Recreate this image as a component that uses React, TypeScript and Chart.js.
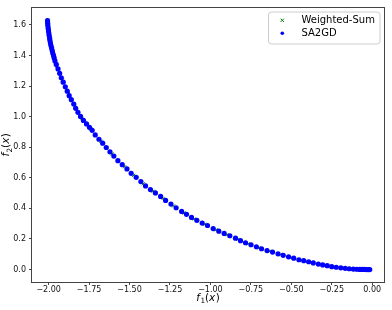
import { useEffect, useRef } from "react";
import { Chart, registerables } from "chart.js";

Chart.register(...registerables);

// SA2GD points (f1, f2)
const sa2gdF1 = [
  -2.007, -2.006, -2.005, -2.003, -2.001, -1.999, -1.997, -1.994, -1.992, -1.989,
  -1.986, -1.982, -1.978, -1.975, -1.970, -1.966, -1.961, -1.953, -1.942, -1.932,
  -1.922, -1.910, -1.897, -1.885, -1.873, -1.860, -1.845, -1.833, -1.819, -1.803,
  -1.785, -1.766, -1.748, -1.731, -1.712, -1.689, -1.666, -1.644, -1.621, -1.597,
  -1.572, -1.545, -1.516, -1.490, -1.459, -1.430, -1.401, -1.371, -1.340, -1.308,
  -1.277, -1.244, -1.212, -1.178, -1.148, -1.117, -1.084, -1.051, -1.018, -0.983,
  -0.948, -0.915, -0.880, -0.845, -0.814, -0.783, -0.749, -0.716, -0.684, -0.650,
  -0.616, -0.582, -0.550, -0.517, -0.485, -0.453, -0.423, -0.393, -0.364, -0.333,
  -0.306, -0.278, -0.250, -0.222, -0.194, -0.167, -0.142, -0.117, -0.096, -0.077,
  -0.062, -0.048, -0.036, -0.025, -0.015,
];
const sa2gdF2 = [
  1.627, 1.611, 1.595, 1.578, 1.562, 1.546, 1.530, 1.513, 1.497, 1.481,
  1.465, 1.449, 1.432, 1.416, 1.400, 1.384, 1.364, 1.341, 1.312, 1.283,
  1.254, 1.225, 1.195, 1.166, 1.137, 1.111, 1.082, 1.054, 1.028, 1.001,
  0.975, 0.952, 0.930, 0.910, 0.880, 0.852, 0.826, 0.798, 0.770, 0.742,
  0.712, 0.686, 0.658, 0.629, 0.603, 0.575, 0.547, 0.523, 0.501, 0.478,
  0.452, 0.428, 0.404, 0.380, 0.361, 0.341, 0.322, 0.304, 0.288, 0.268,
  0.251, 0.236, 0.221, 0.205, 0.189, 0.175, 0.162, 0.149, 0.136, 0.124,
  0.114, 0.103, 0.093, 0.083, 0.074, 0.064, 0.058, 0.051, 0.043, 0.036,
  0.030, 0.025, 0.019, 0.015, 0.011, 0.008, 0.005, 0.003, 0.002, 0.001,
  0.001, 0.0005, 0.0, 0.0, 0.0,
];

// Weighted-Sum points (f1, f2)
const wsF1 = [
  -2.004, -1.996, -1.980, -1.948, -1.915, -1.878, -1.838, -1.794, -1.740, -1.677,
  -1.608, -1.530, -1.474, -1.415, -1.355, -1.292, -1.228, -1.163, -1.100, -1.034,
  -0.965, -0.897, -0.830, -0.766, -0.700, -0.633, -0.566, -0.501, -0.438, -0.378,
  -0.320, -0.264, -0.208, -0.155, -0.107, -0.068, -0.030,
];
const wsF2 = [
  1.630, 1.520, 1.440, 1.330, 1.240, 1.150, 1.065, 0.988, 0.920, 0.839,
  0.756, 0.672, 0.616, 0.561, 0.512, 0.465, 0.416, 0.370, 0.331, 0.296,
  0.260, 0.228, 0.197, 0.168, 0.142, 0.119, 0.098, 0.078, 0.061, 0.047,
  0.033, 0.022, 0.013, 0.006, 0.003, 0.001, 0.0,
];

const xTicks = [-2, -1.75, -1.5, -1.25, -1, -0.75, -0.5, -0.25, 0];
const yTicks = [0, 0.2, 0.4, 0.6, 0.8, 1.0, 1.2, 1.4, 1.6];
const legendLabels = ["Weighted-Sum", "SA2GD"];

const FONT = "'DejaVu Sans', sans-serif";

type Part = { t: string; it?: boolean; sub?: boolean };

function drawMath(ctx: CanvasRenderingContext2D, parts: Part[], cx: number, baseY: number, size: number) {
  const fontFor = (p: Part) => `${p.it ? "italic " : ""}${p.sub ? size * 0.7 : size}px ${FONT}`;
  let total = 0;
  const widths = parts.map((p) => {
    ctx.font = fontFor(p);
    const w = ctx.measureText(p.t).width + (p.it ? size * 0.04 : 0);
    total += w;
    return w;
  });
  let x = cx - total / 2;
  ctx.textAlign = "left";
  ctx.textBaseline = "alphabetic";
  parts.forEach((p, i) => {
    ctx.font = fontFor(p);
    ctx.fillText(p.t, x, baseY + (p.sub ? size * 0.22 : 0));
    x += widths[i];
  });
}

const decorPlugin = {
  id: "decor",
  afterDatasetsDraw(chart: any) {
    const ctx: CanvasRenderingContext2D = chart.ctx;
    const a = chart.chartArea;
    ctx.save();
    // frame
    ctx.strokeStyle = "#444";
    ctx.lineWidth = 1;
    ctx.strokeRect(Math.round(a.left) - 0.5, Math.round(a.top) - 0.5, Math.round(a.right) - Math.round(a.left) + 1, Math.round(a.bottom) - Math.round(a.top) + 1);

    // legend
    const lx = 268.5, ly = 12, lw = 111.5, lh = 32;
    ctx.beginPath();
    ctx.roundRect(lx, ly, lw, lh, 3);
    ctx.fillStyle = "rgba(255,255,255,0.8)";
    ctx.fill();
    ctx.strokeStyle = "#cccccc";
    ctx.stroke();

    // green x marker
    ctx.strokeStyle = "#008000";
    ctx.lineWidth = 1;
    const mx = 282.3, my1 = 20.3, my2 = 33.3, s = 1.6;
    ctx.beginPath();
    ctx.moveTo(mx - s, my1 - s);
    ctx.lineTo(mx + s, my1 + s);
    ctx.moveTo(mx - s, my1 + s);
    ctx.lineTo(mx + s, my1 - s);
    ctx.stroke();
    // blue dot
    ctx.fillStyle = "#0000ff";
    ctx.beginPath();
    ctx.arc(mx, my2, 1.8, 0, Math.PI * 2);
    ctx.fill();

    ctx.fillStyle = "#000";
    ctx.font = `10px ${FONT}`;
    ctx.textAlign = "left";
    ctx.textBaseline = "middle";
    ctx.fillText(legendLabels[0], 301.5, my1 + 0.3);
    ctx.fillText(legendLabels[1], 301.5, my2 + 0.3);

    // axis titles
    ctx.fillStyle = "#000";
    const cx = (a.left + a.right) / 2;
    drawMath(ctx, [{ t: "f", it: true }, { t: "1", sub: true }, { t: "(" }, { t: "x", it: true }, { t: ")" }], cx, 301, 10.4);
    const cy = (a.top + a.bottom) / 2;
    ctx.translate(6, cy);
    ctx.rotate(-Math.PI / 2);
    drawMath(ctx, [{ t: "f", it: true }, { t: "2", sub: true }, { t: "(" }, { t: "x", it: true }, { t: ")" }], 0, 3.4, 10.4);
    ctx.restore();
  },
};

export default function App() {
  const ref = useRef<HTMLCanvasElement | null>(null);

  useEffect(() => {
    if (!ref.current) return;
    const chart = new Chart(ref.current, {
      type: "scatter",
      data: {
        datasets: [
          {
            label: legendLabels[1],
            data: sa2gdF1.map((x, i) => ({ x, y: sa2gdF2[i] })),
            pointRadius: 2.6,
            pointHoverRadius: 2.6,
            pointBackgroundColor: "#0000ff",
            pointBorderWidth: 0,
            borderColor: "#0000ff",
            order: 0,
          },
          {
            label: legendLabels[0],
            data: wsF1.map((x, i) => ({ x, y: wsF2[i] })),
            pointStyle: "crossRot",
            pointRadius: 2.2,
            pointHoverRadius: 2.2,
            pointBorderColor: "#008000",
            borderColor: "#008000",
            pointBorderWidth: 1,
            order: 1,
          },
        ],
      },
      options: {
        responsive: false,
        animation: false,
        devicePixelRatio: 1,
        events: [],
        layout: { padding: { left: 0, right: 8, top: 6, bottom: 0 } },
        plugins: {
          legend: { display: false },
          tooltip: { enabled: false },
        },
        scales: {
          x: {
            type: "linear",
            min: -2.103,
            max: 0.073,
            afterFit: (s: any) => {
              s.height = 28;
            },
            afterBuildTicks: (s: any) => {
              s.ticks = xTicks.map((v) => ({ value: v }));
            },
            border: { display: false },
            grid: { drawOnChartArea: false, drawTicks: true, tickLength: 3, color: "#444" },
            ticks: {
              padding: 1,
              color: "#111",
              font: { family: FONT, size: 8, lineHeight: 1 },
              maxRotation: 0,
              autoSkip: false,
              callback: (v: any) => Number(v).toFixed(2).replace("-", "\u2212"),
            },
          },
          y: {
            type: "linear",
            min: -0.0815,
            max: 1.7115,
            afterFit: (s: any) => {
              s.width = 32;
            },
            afterBuildTicks: (s: any) => {
              s.ticks = yTicks.map((v) => ({ value: v }));
            },
            border: { display: false },
            grid: { drawOnChartArea: false, drawTicks: true, tickLength: 3, color: "#444" },
            ticks: {
              padding: 3,
              color: "#111",
              font: { family: FONT, size: 8 },
              autoSkip: false,
              callback: (v: any) => Number(v).toFixed(1),
            },
          },
        },
      },
      plugins: [decorPlugin],
    });
    return () => chart.destroy();
  }, []);

  return (
    <div style={{ position: "fixed", left: 0, top: 0, width: 392, height: 310, background: "#fff" }}>
      <canvas ref={ref} width={392} height={310} style={{ width: 392, height: 310, display: "block" }} />
    </div>
  );
}
